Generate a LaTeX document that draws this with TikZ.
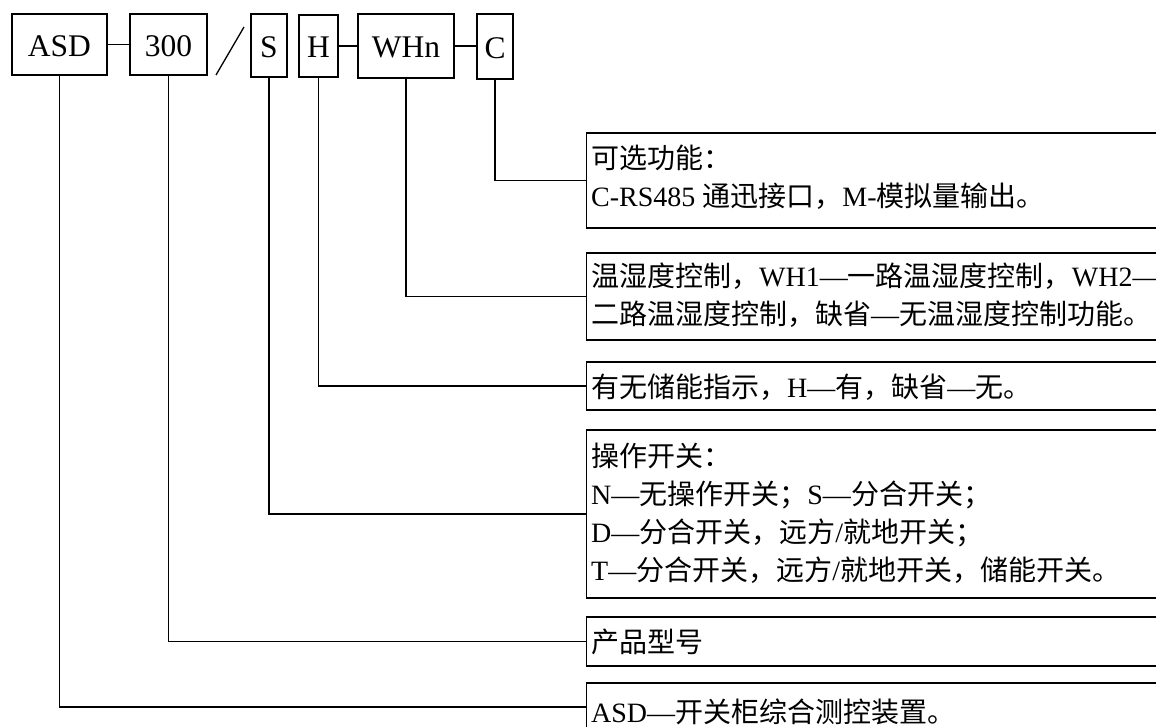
\documentclass[tikz,border=0pt]{standalone}
\usepackage{fontspec}
\setmainfont{Liberation Serif}
\newfontfamily\cjk{Noto Sans CJK SC}
\newcommand\zh[1]{{\cjk #1}}
\begin{document}
\begin{tikzpicture}[x=1pt,y=-1pt,
  topbox/.style={draw, line width=1.3pt, inner sep=0pt, text height=24pt, text depth=0pt,
    font=\fontsize{31.5}{36}\selectfont},
  descbox/.style={draw, line width=1.3pt, inner sep=0pt, minimum width=584pt, anchor=west},
  desc/.style={anchor=base west, inner sep=0pt, font=\fontsize{28}{32}\selectfont},
  link/.style={line width=1.3pt}]
\useasboundingbox (0,0) rectangle (1156,727);
\fill[white] (0,0) rectangle (1156,727);
\clip (0,0) rectangle (1156,727);

% top row
\node[topbox, minimum width=95pt, minimum height=61pt] (asd) at (59.5,44.5) {ASD};
\node[topbox, minimum width=77pt, minimum height=61pt] (n300) at (168.5,44.5) {300};
\node[topbox, minimum width=36pt, minimum height=63pt] (s) at (269,45.5) {S};
\node[topbox, minimum width=39pt, minimum height=62pt] (h) at (318.5,46) {H};
\node[topbox, minimum width=96pt, minimum height=64pt] (whn) at (406,46) {WHn};
\node[topbox, minimum width=36pt, minimum height=65pt] (c) at (495,46.5) {C};
\coordinate (sl1) at (216,75);
\coordinate (sl2) at (244,27);
\draw[link] (sl1) -- (sl2);
\draw[link] (asd.east) -- (n300.west);
\draw[link] (h.east) -- (h.east -| whn.west);
\draw[link] (whn.east) -- (whn.east -| c.west);

% description boxes
\node[descbox, minimum height=95pt] (r1) at (586,180.5) {};
\node[descbox, minimum height=87pt] (r2) at (586,296.5) {};
\node[descbox, minimum height=48pt] (r3) at (586,386) {};
\node[descbox, minimum height=168pt] (r4) at (586,514) {};
\node[descbox, minimum height=49pt] (r5) at (586,641.5) {};
\node[descbox, minimum height=48pt] (r6) at (586,707) {};

\draw[link] (c.south) |- (r1.west);
\draw[link] (whn.south) |- (r2.west);
\draw[link] (h.south) |- (r3.west);
\draw[link] (s.south) |- (r4.west);
\draw[link] (n300.south) |- (r5.west);
\draw[link] (asd.south) |- (r6.west);

% texts
\node[desc] (t1a) at (591,168.5) {\zh{可选功能：}};
\node[desc] (t1b) at (591,206.5) {C-RS485 \zh{通迅接口，}M-\zh{模拟量输出。}};
\node[desc] (t2a) at (591,286.5) {\zh{温湿度控制，}WH1—\zh{一路温湿度控制，}WH2—};
\node[desc] (t2b) at (591,324.5) {\zh{二路温湿度控制，缺省}—\zh{无温湿度控制功能。}};
\node[desc] (t3) at (591,397) {\zh{有无储能指示，}H—\zh{有，缺省}—\zh{无。}};
\node[desc] (t4a) at (591,466.5) {\zh{操作开关：}};
\node[desc] (t4b) at (591,504.5) {N—\zh{无操作开关；}S—\zh{分合开关；}};
\node[desc] (t4c) at (591,542.5) {D—\zh{分合开关，远方}/\zh{就地开关；}};
\node[desc] (t4d) at (591,580.5) {T—\zh{分合开关，远方}/\zh{就地开关，储能开关。}};
\node[desc] (t5) at (591,652.5) {\zh{产品型号}};
\node[desc] (t6) at (591,722.5) {ASD—\zh{开关柜综合测控装置。}};
\end{tikzpicture}
\end{document}
